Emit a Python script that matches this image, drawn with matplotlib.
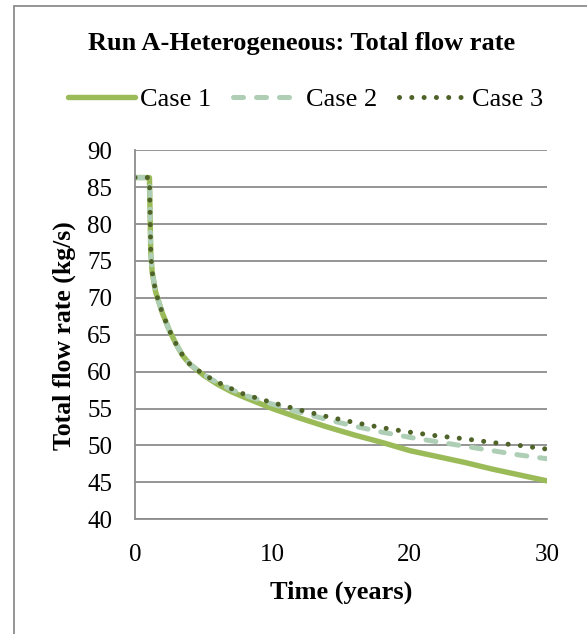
import matplotlib.pyplot as plt
from matplotlib.patches import Rectangle

# Run A - heterogeneous, total flow rate (kg/s) vs time (years)
time = [0, 1.05, 1.15, 1.25, 1.5, 2, 2.5, 3, 3.5, 4, 5, 6, 7, 8,
        10, 12, 14, 16, 18, 20, 22, 24, 26, 28, 30]
case1 = [86.3, 86.3, 76.0, 73.5, 70.8, 67.9, 65.6, 63.7, 62.1, 61.0, 59.5, 58.3, 57.3, 56.5,
         55.0, 53.7, 52.5, 51.4, 50.4, 49.3, 48.5, 47.7, 46.8, 46.0, 45.2]
case2 = [86.3, 86.3, 76.0, 73.5, 70.8, 67.9, 65.6, 63.7, 62.1, 61.0, 59.6, 58.5, 57.6, 56.8,
         55.6, 54.5, 53.5, 52.6, 51.8, 51.1, 50.5, 49.9, 49.3, 48.7, 48.2]
case3 = [86.3, 86.3, 76.0, 73.5, 70.8, 67.9, 65.6, 63.7, 62.1, 61.0, 59.6, 58.6, 57.7, 56.9,
         55.8, 54.8, 53.9, 53.1, 52.4, 51.8, 51.3, 50.9, 50.4, 50.0, 49.5]

plt.rcParams['font.family'] = ['Liberation Serif', 'DejaVu Serif']

fig = plt.figure(figsize=(5.87, 6.34), dpi=100)
ax = fig.add_axes([0.23, 0.181, 0.702, 0.582])

ax.plot(time, case1, color='#9BBB59', lw=3.9, solid_capstyle='round', label='Case 1')
ax.plot(time, case2, color='#AECFB5', lw=3.6, dashes=(2.0, 2.6), dash_capstyle='round', label='Case 2')
ax.plot(time, case3, color='#4F6228', lw=3.6, dashes=(0.01, 2.45), dash_capstyle='round', label='Case 3')

ax.set_xlim(0, 30)
ax.set_ylim(40, 90)
ax.set_xticks([0, 10, 20, 30])
ax.set_yticks(range(40, 91, 5))
ax.grid(axis='y', color='#8C8C8C', lw=1.3)
ax.set_axisbelow(True)
for s in ['top', 'right']:
    ax.spines[s].set_visible(False)
for s in ['left', 'bottom']:
    ax.spines[s].set_color('#8C8C8C')
    ax.spines[s].set_linewidth(1.3)
ax.tick_params(length=0, labelsize=18)
ax.tick_params(axis='x', pad=17.5)
ax.tick_params(axis='y', pad=16.5)

ax.set_xlabel('Time (years)', fontsize=19, fontweight='bold', va='center')
ax.xaxis.set_label_coords(0.5, -0.198)
ax.set_ylabel('Total flow rate (kg/s)', fontsize=18.5, fontweight='bold', va='center')
ax.yaxis.set_label_coords(-0.172, 0.497)

fig.text(0.514, 1 - 50 / 634, 'Run A-Heterogeneous: Total flow rate', ha='center', va='baseline',
         fontsize=19, fontweight='bold')
fig.legend(loc='center', bbox_to_anchor=(0.52, 0.843), ncol=3, frameon=False,
           fontsize=19, handlelength=2.55, handletextpad=0.2, columnspacing=0.83,
           borderpad=0, borderaxespad=0)

fig.patches.append(Rectangle((14 / 587, -0.1), 1.1, 1.1 - 6 / 634, transform=fig.transFigure,
                             fill=False, edgecolor='#8C8C8C', lw=1.3))

fig.savefig('out.png', dpi=100)
